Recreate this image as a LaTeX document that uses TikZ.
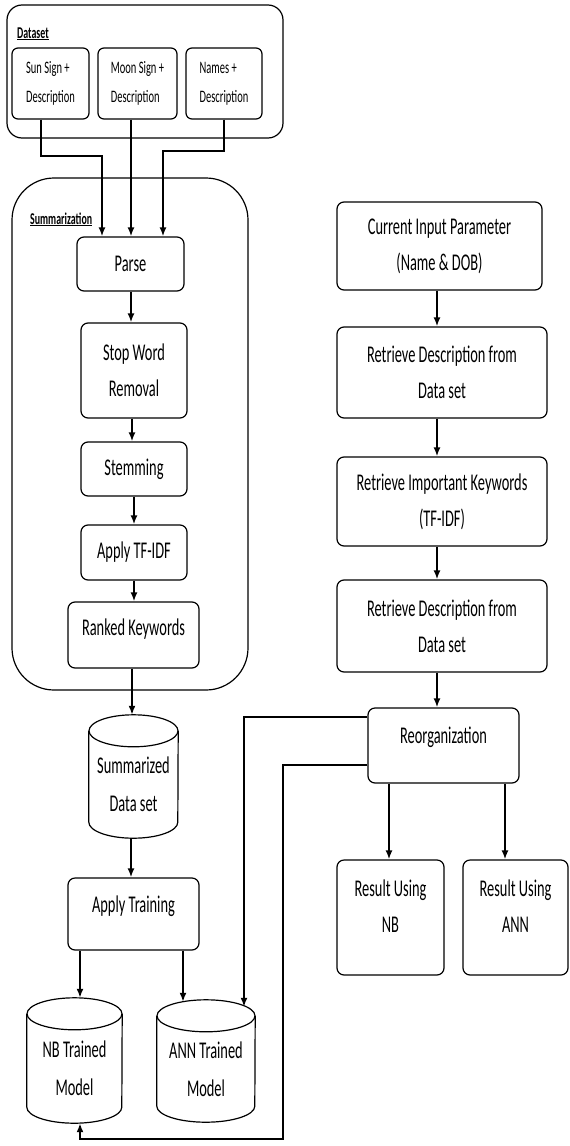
\documentclass[tikz,border=0pt]{standalone}
\usepackage{fontspec}
\setmainfont{Carlito}[FakeStretch=0.6]
\usetikzlibrary{arrows.meta,calc}
\tikzset{
  box/.style={draw, line width=1.2pt, rounded corners=7pt, inner sep=0pt, align=center,
    font=\fontsize{24}{36}\selectfont},
  smallbox/.style={draw, line width=1.2pt, rounded corners=6pt, inner sep=0pt,
    align=left, font=\fontsize{17.5}{29}\selectfont},
  container/.style={draw, line width=1.2pt, rounded corners=#1, inner sep=0pt},
  container/.default=15pt,
  cylnode/.style={inner sep=0pt, align=center, font=\fontsize{24}{38}\selectfont},
  lbl/.style={font=\fontsize{16.5}{20}\selectfont\bfseries, inner sep=0pt, anchor=base west},
  arr/.style={line width=2pt, -{Latex[length=9pt,width=7pt]}},
}
\newcommand{\cylbody}[2]{%
  \draw[line width=1.2pt] (#1.north west) -- ($(#1.south west)+(0,-16)$)
    arc[start angle=180, end angle=360, x radius=#2pt, y radius=16pt] -- (#1.north east);
  \draw[line width=1.2pt] (#1.north) ellipse[x radius=#2pt, y radius=16pt];
}
\begin{document}
\begin{tikzpicture}[x=1pt,y=-1pt]
\useasboundingbox (0,0) rectangle (570,1146);

% containers
\node[container] (dataset) at (145,71.5) [minimum width=276pt, minimum height=133pt] {};
\node[container=42pt] (summ) at (130,434) [minimum width=236pt, minimum height=512pt] {};
\node[lbl] (dslabel) at (17,38) {\underline{Dataset}};
\node[lbl] (sumlabel) at (30,224) {\underline{Summarization}};

% dataset items
\node[smallbox, minimum width=77pt, minimum height=71pt] (sun) at (50.5,83.5) {Sun Sign +\\Description};
\node[smallbox, minimum width=79pt, minimum height=71pt] (moon) at (137.5,83.5) {Moon Sign +\\Description};
\node[smallbox, minimum width=76pt, minimum height=71pt] (names) at (224,83.5) {Names +\\Description};

% left column
\node[box, minimum width=107pt, minimum height=54pt] (parse) at (130.5,264) {Parse};
\node[box, minimum width=106pt, minimum height=95pt] (stop) at (134,370.5) {Stop Word\\Removal};
\node[box, minimum width=106pt, minimum height=54pt] (stem) at (134,469) {Stemming};
\node[box, minimum width=106pt, minimum height=55pt] (tfidf) at (134,552.5) {Apply TF-IDF};
\node[box, minimum width=131pt, minimum height=66pt, text depth=15pt] (ranked) at (133.5,635) {Ranked Keywords};
\node[cylnode, minimum width=89pt, minimum height=107pt] (sd) at (133.5,784.5) {Summarized\\Data set};
\cylbody{sd}{44.5}
\node[box, minimum width=131pt, minimum height=72pt, text depth=19pt] (train) at (133.5,914) {Apply Training};
\node[cylnode, minimum width=95pt, minimum height=109pt] (nb) at (74.5,1068.5) {NB Trained\\Model};
\cylbody{nb}{47.5}
\node[cylnode, minimum width=98pt, minimum height=106pt] (ann) at (206,1069) {ANN Trained\\Model};
\cylbody{ann}{49}

% right column
\node[box, minimum width=205pt, minimum height=88pt] (input) at (439.5,246) {Current Input Parameter\\(Name \& DOB)};
\node[box, minimum width=210pt, minimum height=91pt] (rd1) at (442,372.5) {Retrieve Description from\\Data set};
\node[box, minimum width=210pt, minimum height=89pt] (rik) at (442,501.5) {Retrieve Important Keywords\\(TF-IDF)};
\node[box, minimum width=210pt, minimum height=92pt] (rd2) at (442,626) {Retrieve Description from\\Data set};
\node[box, minimum width=151pt, minimum height=75pt, text depth=21pt] (reorg) at (443.5,745.5) {Reorganization};
\node[box, minimum width=107pt, minimum height=115pt, text depth=22pt] (rnb) at (390.5,917.5) {Result Using\\NB};
\node[box, minimum width=105pt, minimum height=115pt, text depth=22pt] (rann) at (515.5,917.5) {Result Using\\ANN};

% dataset connectors
\draw[arr] ([xshift=-9.5pt]sun.south) -- ++(0,36) -| ([xshift=-28.5pt]parse.north);
\draw[arr] ([xshift=0.5pt]parse.north |- moon.south) -- ([xshift=0.5pt]parse.north);
\draw[arr] (names.south) -- ++(0,31) -| ([xshift=32.5pt]parse.north);

% left column connectors
\draw[arr] ([xshift=0.5pt]parse.south) -- ([xshift=0.5pt]parse.south |- stop.north);
\draw[arr] ([xshift=-2pt]stop.south) -- ([xshift=-2pt]stem.north);
\draw[arr] (stem.south) -- (tfidf.north);
\draw[arr] (tfidf.south) -- (tfidf.south |- ranked.north);
\draw[arr] ([xshift=-1.5pt]ranked.south) -- ([xshift=-1.5pt,yshift=16pt]sd.north);
\draw[arr] ([xshift=-2.5pt]sd.south) -- ([xshift=-2.5pt]sd.south |- train.north);
\draw[arr] ([xshift=5.5pt]nb.north |- train.south) -- ([xshift=5.5pt,yshift=16pt]nb.north);
\draw[arr] ([xshift=-23pt]ann.north |- train.south) -- ([xshift=-23pt,yshift=14pt]ann.north);

% right column connectors
\draw[arr] ([xshift=-2.5pt]input.south) -- ([xshift=-2.5pt]input.south |- rd1.north);
\draw[arr] ([xshift=-5pt]rd1.south) -- ([xshift=-5pt]rik.north);
\draw[arr] ([xshift=-5pt]rik.south) -- ([xshift=-5pt]rd2.north);
\draw[arr] ([xshift=-5pt]rd2.south) -- ([xshift=-5pt]rd2.south |- reorg.north);
\draw[arr] ([xshift=-1.5pt]rnb.north |- reorg.south) -- ([xshift=-1.5pt]rnb.north);
\draw[arr] ([xshift=-10.5pt]rann.north |- reorg.south) -- ([xshift=-10.5pt]rann.north);

% feedback connectors
\draw[arr] ([yshift=28.5pt]reorg.west) -| ([xshift=38pt,yshift=9pt]ann.north);
\coordinate (corner) at (283,1139);
\draw[arr] ([yshift=-19.5pt]reorg.west) -| (corner) -| ([xshift=5.5pt]nb.south);
\end{tikzpicture}
\end{document}
